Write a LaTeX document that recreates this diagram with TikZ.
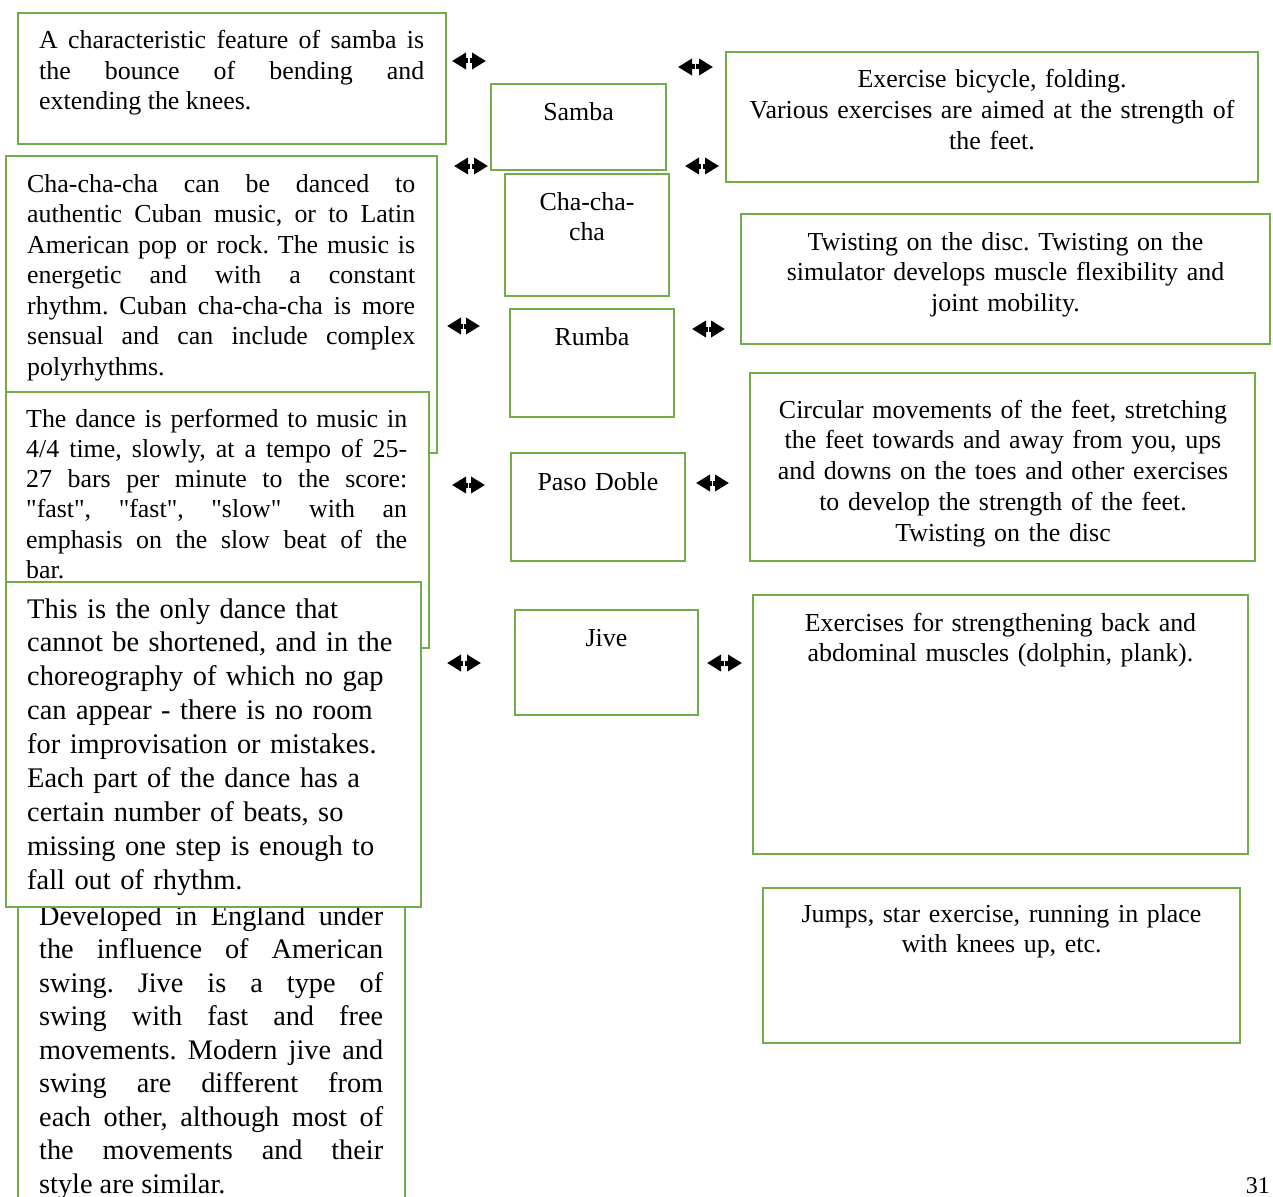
\documentclass[tikz,border=0pt]{standalone}
\usepackage{fontspec}
\setmainfont{Liberation Serif}[Ligatures=TeXOff]
\usetikzlibrary{arrows.meta}
\definecolor{grn}{HTML}{70AD47}
\newcommand{\jset}{\tolerance=10000 \pretolerance=10000 \hbadness=10000 \frenchspacing}
\newcommand{\sq}{\symbol{34}}
\begin{document}
\begin{tikzpicture}[x=1pt,y=-1pt,
  box/.style={draw=grn, line width=2.6pt, fill=white, inner sep=0pt, outer sep=0pt, anchor=north west},
  jtext/.style={anchor=base west, inner sep=0pt, align=justify, font=\fontsize{25.9}{30.5}\selectfont\jset},
  ctext/.style={anchor=base, inner sep=0pt, align=center, font=\fontsize{25.9}{30.8}\selectfont\frenchspacing},
  btext/.style={anchor=base west, inner sep=0pt, font=\fontsize{28.4}{33.9}\selectfont\jset},
  halfarr/.style={line width=5pt, -{Triangle[length=14pt,width=16pt]}}
]
\path[use as bounding box] (0,0) rectangle (1273,1196);
\clip (0,0) rectangle (1273,1196);

% Samba row
\node[box, minimum width=428pt, minimum height=131pt] (bA) at (18,13) {};
\node[jtext, text width=385pt] (tA) at (39,49) {A characteristic feature of samba is\linebreak the bounce of bending and\linebreak extending the knees.};
\node[box, minimum width=175pt, minimum height=86pt] (bS) at (491,84) {};
\node[ctext, text width=160pt] (tS) at (578.5,121) {Samba};
\node[box, minimum width=532pt, minimum height=130pt] (bR1) at (726,52) {};
\node[ctext, text width=510pt] (tR1) at (992,88) {Exercise bicycle, folding.\\ Various exercises are aimed at the strength of\\ the feet.};

% Cha-cha-cha row
\node[box, minimum width=431pt, minimum height=297pt] (bC) at (6,156) {};
\node[jtext, text width=388pt] (tC) at (27,192) {Cha-cha-cha can be danced to\linebreak authentic Cuban music, or to Latin\linebreak American pop or rock. The music is\linebreak energetic and with a constant\linebreak rhythm. Cuban cha-cha-cha is more\linebreak sensual and can include complex\linebreak polyrhythms.};
\node[box, minimum width=164pt, minimum height=122pt] (bCh) at (505,174) {};
\node[ctext, text width=150pt] (tCh) at (587,210) {Cha-cha-\\cha};
\node[box, minimum width=529pt, minimum height=130pt] (bR2) at (741,214) {};
\node[ctext, text width=510pt] (tR2) at (1005.5,250) {Twisting on the disc. Twisting on the\\ simulator develops muscle flexibility and\\ joint mobility.};

% Rumba row
\node[box, minimum width=164pt, minimum height=108pt] (bRu) at (510,309) {};
\node[ctext, text width=150pt] (tRu) at (592,345) {Rumba};
\node[box, minimum width=423pt, minimum height=256pt] (bB) at (6,392) {};
\node[jtext, text width=381pt, font=\fontsize{25.9}{30.3}\selectfont\jset] (tB) at (26,427) {The dance is performed to music in\linebreak 4/4 time, slowly, at a tempo of 25-\linebreak 27 bars per minute to the score:\linebreak \sq fast\sq, \sq fast\sq, \sq slow\sq{} with an\linebreak emphasis on the slow beat of the\linebreak bar.};

% Paso Doble row
\node[box, minimum width=174pt, minimum height=108pt] (bP) at (511,453) {};
\node[ctext, text width=160pt] (tP) at (598,490) {Paso Doble};
\node[box, minimum width=505pt, minimum height=188pt] (bR3) at (750,373) {};
\node[ctext, text width=490pt, font=\fontsize{25.9}{30.9}\selectfont\frenchspacing] (tR3) at (1003,418) {Circular movements of the feet, stretching\\ the feet towards and away from you, ups\\ and downs on the toes and other exercises\\ to develop the strength of the feet.\\ Twisting on the disc};

% Jive row
\node[box, minimum width=387pt, minimum height=330pt] (bD) at (18,895) {};
\node[btext, text width=344pt, align=justify, font=\fontsize{28.3}{33.5}\selectfont\jset] (tD) at (39,925) {Developed in England under\linebreak the influence of American\linebreak swing. Jive is a type of\linebreak swing with fast and free\linebreak movements. Modern jive and\linebreak swing are different from\linebreak each other, although most of\linebreak the movements and their\linebreak style are similar.};
\node[box, minimum width=415pt, minimum height=325pt] (bT) at (6,582) {};
\node[btext, text width=390pt, align=left] (tT) at (27,618) {This is the only dance that\\ cannot be shortened, and in the\\ choreography of which no gap\\ can appear - there is no room\\ for improvisation or mistakes.\\ Each part of the dance has a\\ certain number of beats, so\\ missing one step is enough to\\ fall out of rhythm.};
\node[box, minimum width=183pt, minimum height=105pt] (bJ) at (515,610) {};
\node[ctext, text width=170pt] (tJ) at (606.5,646) {Jive};
\node[box, minimum width=495pt, minimum height=259pt] (bR4) at (753,595) {};
\node[ctext, text width=480pt] (tR4) at (1000.5,631) {Exercises for strengthening back and\\ abdominal muscles (dolphin, plank).};
\node[box, minimum width=477pt, minimum height=155pt] (bR5) at (763,888) {};
\node[ctext, text width=460pt] (tR5) at (1001.5,922) {Jumps, star exercise, running in place\\ with knees up, etc.};

% double arrows
\foreach \n/\xa/\xb/\yy in {1/452/486/61, 2/678/713/67, 3/454/488/166, 4/685/719/166, 5/447/480/326, 6/692/725/329, 7/452/485/485, 8/696/729/483, 9/447/481/663, 10/707/742/663}{
  \coordinate (a\n w) at (\xa,\yy);
  \coordinate (a\n e) at (\xb,\yy);
  \coordinate (a\n l) at ({(\xa+\xb)/2-0.7},\yy);
  \coordinate (a\n r) at ({(\xa+\xb)/2+0.7},\yy);
  \draw[halfarr] (a\n l) -- (a\n w);
  \draw[halfarr] (a\n r) -- (a\n e);
}

\node[anchor=base east, inner sep=0pt, font=\fontsize{24}{28}\selectfont] (pg) at (1270,1193) {31};
\end{tikzpicture}
\end{document}
